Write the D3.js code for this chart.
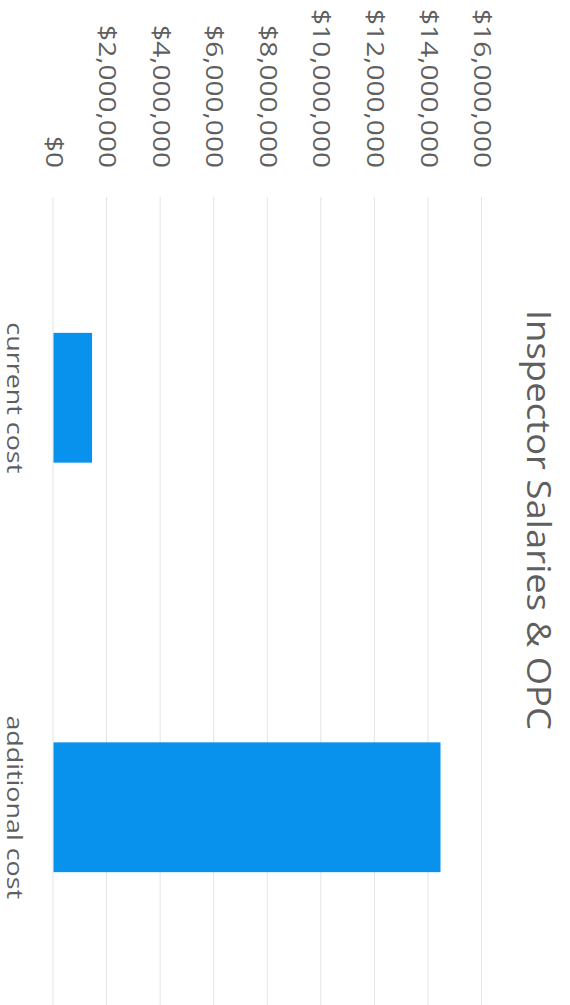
<!DOCTYPE html>
<html>
<head>
<meta charset="utf-8">
<script src="https://cdn.jsdelivr.net/npm/d3@7"></script>
<style>
  html, body { margin: 0; padding: 0; background: #fff; }
  svg { display: block; }
</style>
</head>
<body>
<div id="chart"></div>
<script>
var title = 'Inspector Salaries & OPC';
var categories = ['current cost', 'additional cost'];
var costValues = [1440000, 14450000];
var tickValues = [0, 2000000, 4000000, 6000000, 8000000, 10000000, 12000000, 14000000, 16000000];

var pageWidth = 570
  , pageHeight = 1005
  // the chart is drawn in a frame turned a quarter turn clockwise
  , width = pageHeight
  , height = pageWidth;

// the source picture is stretched along the text direction
function stretch(sel, k) {
  sel.each(function () {
    var len = this.getComputedTextLength();
    d3.select(this)
      .attr('textLength', len * k)
      .attr('lengthAdjust', 'spacingAndGlyphs');
  });
}

var svg = d3.select('#chart')
  .append('svg')
  .attr('width', pageWidth)
  .attr('height', pageHeight);

var g = svg.append('g')
  .attr('transform', 'translate(' + pageWidth + ',0) rotate(90)');

var x = d3.scaleBand()
  .domain(categories)
  .range([193, 1012])
  .paddingInner(0.683)
  .paddingOuter(0.3415);

var y = d3.scaleLinear()
  .domain([0, 16000000])
  .range([516.5, 88]);

var fmt = d3.format('$,');

// gridlines
g.append('g')
  .attr('class', 'grid')
  .attr('transform', 'translate(197,0)')
  .call(d3.axisLeft(y).tickValues(tickValues).tickSize(-(width - 197)).tickFormat(''))
  .call(s => s.select('.domain').remove())
  .call(s => s.selectAll('line').attr('stroke', '#e2e4e8').attr('stroke-width', 1));

// value axis labels
g.append('g')
  .attr('class', 'y axis')
  .attr('transform', 'translate(168,0)')
  .call(d3.axisLeft(y).tickValues(tickValues).tickSize(0).tickPadding(0).tickFormat(fmt))
  .call(s => s.select('.domain').remove())
  .call(s => s.selectAll('text')
    .style('font', '23px "Open Sans", sans-serif')
    .attr('fill', '#5f5f5f')
    .call(stretch, 1.22));

g.selectAll('rect.bar')
  .data(costValues)
  .join('rect')
  .attr('class', 'bar')
  .attr('x', (d, i) => x(categories[i]))
  .attr('width', x.bandwidth())
  .attr('y', d => y(d))
  .attr('height', d => y(0) - y(d))
  .attr('fill', '#0892ee');

g.append('g')
  .attr('class', 'x axis')
  .attr('transform', 'translate(0,548)')
  .call(d3.axisBottom(x).tickSize(0).tickPadding(0))
  .call(s => s.select('.domain').remove())
  .call(s => s.selectAll('text')
    .attr('dy', '0.71em')
    .style('font', '21px "Open Sans", sans-serif')
    .attr('fill', '#5f5f5f')
    .call(stretch, 1.28));

g.append('text')
  .attr('x', 520)
  .attr('y', 43)
  .attr('text-anchor', 'middle')
  .style('font', '32px "Open Sans", sans-serif')
  .attr('fill', '#5f5f5f')
  .text(title)
  .call(stretch, 1.14);
</script>
</body>
</html>
